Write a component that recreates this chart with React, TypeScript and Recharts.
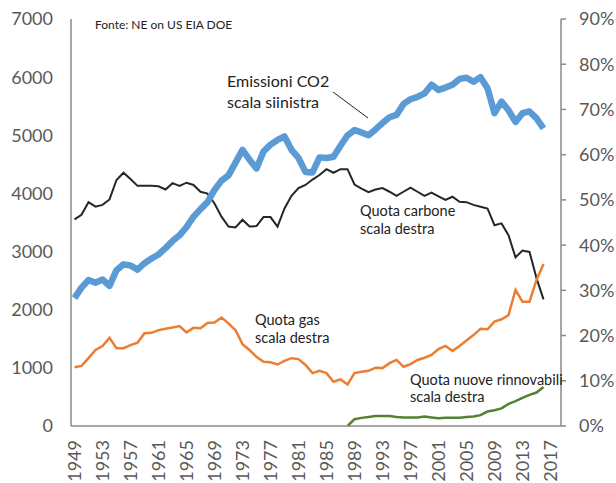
import { LineChart, Line, XAxis, YAxis } from 'recharts';

const years = [
  1949, 1950, 1951, 1952, 1953, 1954, 1955, 1956, 1957, 1958,
  1959, 1960, 1961, 1962, 1963, 1964, 1965, 1966, 1967, 1968,
  1969, 1970, 1971, 1972, 1973, 1974, 1975, 1976, 1977, 1978,
  1979, 1980, 1981, 1982, 1983, 1984, 1985, 1986, 1987, 1988,
  1989, 1990, 1991, 1992, 1993, 1994, 1995, 1996, 1997, 1998,
  1999, 2000, 2001, 2002, 2003, 2004, 2005, 2006, 2007, 2008,
  2009, 2010, 2011, 2012, 2013, 2014, 2015, 2016, 2017, 2018,
];

// emissioni CO2 (Mt), 1949-2016
const co2Emissions = [
  2200, 2380, 2510, 2465, 2520, 2410, 2680, 2780, 2760, 2690,
  2800, 2880, 2950, 3060, 3180, 3280, 3420, 3600, 3730, 3850,
  4060, 4220, 4310, 4530, 4750, 4580, 4430, 4720, 4840, 4920,
  4980, 4750, 4610, 4370, 4360, 4620, 4610, 4630, 4820, 5000,
  5090, 5050, 5000, 5100, 5210, 5310, 5350, 5540, 5620, 5660,
  5720, 5870, 5780, 5820, 5870, 5970, 5990, 5920, 6000, 5810,
  5380, 5580, 5430, 5230, 5380, 5410, 5290, 5120,
];

// quota carbone (%), 1949-2016
const coalShare = [
  45.7, 46.7, 49.5, 48.5, 48.9, 50.1, 54.4, 56.0, 54.6, 53.1,
  53.1, 53.1, 53.0, 52.3, 53.7, 53.1, 53.8, 53.3, 51.8, 51.4,
  49.2, 46.3, 44.1, 43.9, 45.6, 44.1, 44.2, 46.2, 46.2, 44.1,
  48.1, 50.9, 52.6, 53.3, 54.5, 55.5, 56.8, 56.0, 56.8, 56.8,
  53.4, 52.5, 51.7, 52.3, 52.6, 51.8, 50.9, 51.8, 52.7, 51.8,
  50.9, 51.6, 50.8, 50.0, 50.7, 49.6, 49.5, 48.9, 48.5, 48.1,
  44.4, 44.8, 42.2, 37.3, 38.8, 38.5, 32.7, 28.0,
];

// quota gas (%), 1949-2016
const gasShare = [
  13.0, 13.3, 15.0, 16.8, 17.7, 19.5, 17.2, 17.2, 17.9, 18.4,
  20.5, 20.6, 21.2, 21.5, 21.8, 22.1, 20.7, 21.7, 21.6, 22.8,
  22.9, 24.0, 22.7, 21.2, 18.1, 16.8, 15.3, 14.2, 14.1, 13.6,
  14.4, 15.0, 14.8, 13.5, 11.7, 12.2, 11.7, 9.8, 10.3, 9.2,
  11.7, 12.0, 12.2, 12.9, 12.8, 13.9, 14.6, 13.1, 13.7, 14.6,
  15.1, 15.7, 17.0, 17.7, 16.6, 17.7, 18.9, 20.1, 21.5, 21.4,
  23.1, 23.6, 24.5, 30.1, 27.5, 27.5, 32.3, 35.8,
];

// quota nuove rinnovabili (%), dal 1988 al 2016
const renewStartYear = 1988;
const renewShare = [
  0, 1.5, 1.8, 2.0, 2.2, 2.2, 2.2, 2.0, 1.9, 1.9,
  1.9, 2.1, 1.9, 1.7, 1.8, 1.8, 1.8, 2.0, 2.1, 2.4,
  3.2, 3.5, 3.9, 4.9, 5.5, 6.2, 6.9, 7.4, 8.6,
];

const leftTicks = [0, 1000, 2000, 3000, 4000, 5000, 6000, 7000];
const rightTicks = [0, 10, 20, 30, 40, 50, 60, 70, 80, 90];
const yearTicks = [1949, 1953, 1957, 1961, 1965, 1969, 1973, 1977, 1981, 1985, 1989, 1993, 1997, 2001, 2005, 2009, 2013, 2017];

const data = years.map((year, i) => ({
  year,
  co2: co2Emissions[i] ?? null,
  coal: coalShare[i] ?? null,
  gas: gasShare[i] ?? null,
  renew: year >= renewStartYear ? renewShare[year - renewStartYear] ?? null : null,
}));

const FONT = 'Lato, "Liberation Sans", sans-serif';
const AXIS_GREY = '#898989';
const TICK_GREY = '#595959';

const YearTick = ({ x, y, payload }: any) => (
  <g transform={`translate(${x},${y})`}>
    <text
      transform="rotate(-90)"
      textAnchor="end"
      dy="0.36em"
      fill={TICK_GREY}
      fontSize={18}
      fontFamily={FONT}
    >
      {payload.value}
    </text>
  </g>
);

export default function App() {
  return (
    <div style={{ position: 'fixed', top: 0, left: 0, width: 616, height: 483, background: '#fff' }}>
      <LineChart width={616} height={483} data={data} margin={{ top: 19, right: 0, left: 0, bottom: 0 }}>
        <XAxis
          dataKey="year"
          type="number"
          domain={[1948.5, 2018.5]}
          ticks={yearTicks}
          interval={0}
          height={57}
          tickLine={false}
          tickSize={8}
          tickMargin={6}
          axisLine={{ stroke: AXIS_GREY, strokeWidth: 1.5 }}
          tick={<YearTick />}
        />
        <YAxis
          yAxisId="left"
          domain={[0, 7000]}
          ticks={leftTicks}
          width={71}
          tickLine={false}
          tickSize={6}
          tickMargin={12}
          axisLine={{ stroke: AXIS_GREY, strokeWidth: 1.5 }}
          tick={{ fill: TICK_GREY, fontSize: 18, fontFamily: FONT }}
        />
        <YAxis
          yAxisId="right"
          orientation="right"
          domain={[0, 90]}
          ticks={rightTicks}
          width={55}
          tickSize={5}
          tickMargin={13}
          tickLine={{ stroke: AXIS_GREY, strokeWidth: 1.5 }}
          axisLine={{ stroke: AXIS_GREY, strokeWidth: 1.5 }}
          tick={{ fill: TICK_GREY, fontSize: 18, fontFamily: FONT }}
          tickFormatter={(v) => `${v}%`}
        />
        <Line yAxisId="right" type="linear" dataKey="coal" stroke="#262626" strokeWidth={2} dot={false} isAnimationActive={false} />
        <Line yAxisId="right" type="linear" dataKey="gas" stroke="#ED7D31" strokeWidth={2.5} dot={false} isAnimationActive={false} />
        <Line yAxisId="right" type="linear" dataKey="renew" stroke="#548235" strokeWidth={2.5} dot={false} isAnimationActive={false} />
        <Line yAxisId="left" type="linear" dataKey="co2" stroke="#5B9BD5" strokeWidth={6.5} strokeLinejoin="round" dot={false} isAnimationActive={false} />
      </LineChart>
      <svg width={616} height={483} style={{ position: 'absolute', top: 0, left: 0, pointerEvents: 'none' }} fontFamily={FONT}>
        <text x={95} y={29} fontSize={12} fill="#222">Fonte: NE on US EIA DOE</text>
        <text x={227} y={87} fontSize={16} fill="#222">Emissioni  CO2</text>
        <text x={227} y={108} fontSize={16} fill="#222">scala siinistra</text>
        <line x1={333} y1={92} x2={368} y2={118} stroke="#222" strokeWidth={1} />
        <text x={360} y={216} fontSize={14.5} fill="#222">Quota carbone</text>
        <text x={360} y={234} fontSize={14.5} fill="#222">scala destra</text>
        <text x={255} y={325} fontSize={14.5} fill="#222">Quota gas</text>
        <text x={255} y={343} fontSize={14.5} fill="#222">scala destra</text>
        <text x={410} y={385} fontSize={14.5} fill="#222">Quota nuove rinnovabili</text>
        <text x={410} y={402} fontSize={14.5} fill="#222">scala destra</text>
      </svg>
    </div>
  );
}
